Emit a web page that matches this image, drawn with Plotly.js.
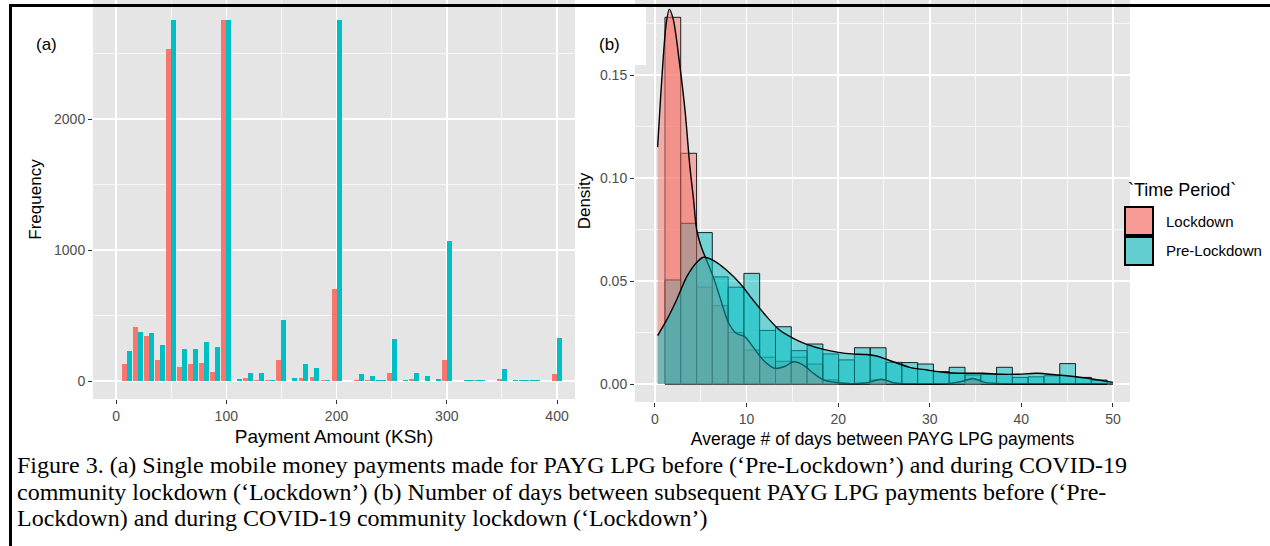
<!DOCTYPE html>
<html>
<head>
<meta charset="utf-8">
<script src="https://cdn.plot.ly/plotly-3.0.1.min.js"></script>
<style>
html,body{margin:0;padding:0;background:#fff;}
#chart{width:1270px;height:546px;}
</style>
</head>
<body>
<div id="chart"></div>
<script>
// ---------- Panel (a): single payments, counts by payment amount ----------
const paymentAmounts = [10,20,30,40,50,60,70,80,90,100,110,120,130,140,150,160,170,180,190,200,210,220,230,240,250,260,270,280,290,300,310,320,330,340,350,360,370,380,390,400];
const paymentLockdown = [130,414,346,160,2532,109,130,140,71,2756,2,20,8,5,160,3,23,33,10,702,2,10,6,null,61,1,12,1,1,160,2,null,null,null,12,1,null,null,3,51];
const paymentPreLockdown = [229,374,366,277,2756,247,247,298,257,2756,13,61,61,10,466,23,130,99,10,2756,3,53,41,10,318,10,61,41,12,1070,2,10,10,2,89,10,10,4,null,326];

// ---------- Panel (b): days between payments, density histogram + KDE ----------
const dayBinEdges = [1.09,2.81,4.54,6.26,7.99,9.71,11.43,13.16,14.88,16.61,18.33,20.05,21.78,23.50,25.23,26.95,28.67,30.40,32.12,33.85,35.57,37.29,39.02,40.74,42.47,44.19,45.91,47.64,49.36];
const histLockdown = [0.178,0.112,0.047,0.038,0.025,0.0165,0.013,0.011,0.013,0.0097,0.002,0,0,0.002,0,0,0,0,0,0.002,0,0,0,0,0,0,0,0];
const histPreLockdown = [0.0505,0.078,0.0735,0.052,0.047,0.0537,0.026,0.0278,0.0162,0.0194,0.0146,0.0117,0.0176,0.0176,0.0105,0.0104,0.0097,0.006,0.0081,0.0044,0.0047,0.0081,0.0032,0.0035,0.004,0.0099,0.0032,0.0019];

const densLockdownX = [0.29,0.6,0.9,1.2,1.56,2.0,2.7,3.3,3.8,4.2,4.55,5.1,5.64,6.36,7.1,8.0,8.9,9.8,10.7,11.8,13.1,14.2,15.1,16.2,17.3,18.4,19.8,21.5,23.2,24.7,26.2,28,32,33.5,34.7,36,38,42,46,50];
const densLockdownY = [0.115,0.138,0.158,0.174,0.182,0.177,0.155,0.132,0.106,0.09,0.075,0.066,0.06,0.052,0.042,0.03,0.0245,0.023,0.018,0.0117,0.0076,0.0086,0.0108,0.0092,0.0052,0.002,0.0007,0.0002,0.0006,0.0023,0.0005,0.0001,0.0002,0.0012,0.0027,0.0008,0.0001,0,0.0001,0];
const densPreX = [0.29,1.27,2.36,3.46,4.55,5.28,6.36,7.8,9.27,10.7,12.2,13.6,15.1,16.5,18.4,20.2,21.5,23.1,24.2,26.0,27.8,29.7,31.5,33.3,35.8,37.7,39.5,41.7,43.9,46.0,47.9,50];
const densPreY = [0.0235,0.031,0.0408,0.052,0.059,0.0615,0.060,0.0553,0.0489,0.0408,0.0327,0.0262,0.0222,0.0194,0.0168,0.0152,0.0146,0.0143,0.0136,0.0108,0.0081,0.0068,0.0057,0.0052,0.0052,0.0047,0.0047,0.0052,0.0044,0.0035,0.0023,0.0008];

const timePeriods = ['Lockdown','Pre-Lockdown'];
const legendTitle = '`Time Period`';
const captionLines = [
  'Figure 3. (a) Single mobile money payments made for PAYG LPG before (\u2018Pre-Lockdown\u2019) and during COVID-19',
  'community lockdown (\u2018Lockdown\u2019) (b) Number of days between subsequent PAYG LPG payments before (\u2018Pre-',
  'Lockdown) and during COVID-19 community lockdown (\u2018Lockdown\u2019)'
];

// ---------- styling ----------
const RED = '#F8766D', TEAL = '#00BFC4';
const W = 1270, H = 546;
const px = v => v / W, py = v => 1 - v / H;
const SANS = 'Liberation Sans, Arial, sans-serif';

// dodge: pair shares width 9; lone bar gets full width
const dodgeW = 9;
const redOff = [], redW = [], tealOff = [], tealW = [];
paymentAmounts.forEach((a, i) => {
  const r = paymentLockdown[i], t = paymentPreLockdown[i];
  if (r != null && t != null) { redOff.push(-dodgeW/2); redW.push(dodgeW/2); tealOff.push(0); tealW.push(dodgeW/2); }
  else { redOff.push(-dodgeW/2); redW.push(dodgeW); tealOff.push(-dodgeW/2); tealW.push(dodgeW); }
});

const binCenters = dayBinEdges.slice(0, -1).map((e, i) => (e + dayBinEdges[i+1]) / 2);
const binWidths = dayBinEdges.slice(0, -1).map((e, i) => dayBinEdges[i+1] - e);

const traces = [
  {type:'bar', x:paymentAmounts, y:paymentLockdown, offset:redOff, width:redW, marker:{color:RED, line:{width:0}}, xaxis:'x', yaxis:'y', showlegend:false, name:timePeriods[0]},
  {type:'bar', x:paymentAmounts, y:paymentPreLockdown, offset:tealOff, width:tealW, marker:{color:TEAL, line:{width:0}}, xaxis:'x', yaxis:'y', showlegend:false, name:timePeriods[1]},
  {type:'bar', x:binCenters, y:histLockdown, width:binWidths, marker:{color:'rgba(248,118,109,0.5)', line:{color:'rgba(0,0,0,0.85)', width:1}}, xaxis:'x2', yaxis:'y2', showlegend:false, name:timePeriods[0]},
  {type:'bar', x:binCenters, y:histPreLockdown, width:binWidths, marker:{color:'rgba(0,191,196,0.5)', line:{color:'rgba(0,0,0,0.85)', width:1}}, xaxis:'x2', yaxis:'y2', showlegend:false, name:timePeriods[1]},
  {type:'scatter', mode:'lines', x:densLockdownX, y:densLockdownY, fill:'tozeroy', fillcolor:'rgba(248,118,109,0.5)', line:{color:'#000', width:1.4, shape:'spline', smoothing:0.8}, xaxis:'x2', yaxis:'y2', showlegend:false, name:timePeriods[0]},
  {type:'scatter', mode:'lines', x:densPreX, y:densPreY, fill:'tozeroy', fillcolor:'rgba(0,191,196,0.5)', line:{color:'#000', width:1.4, shape:'spline', smoothing:0.8}, xaxis:'x2', yaxis:'y2', showlegend:false, name:timePeriods[1]}
];

const axisCommon = {
  showline:false, zeroline:false, ticks:'outside', ticklen:4, tickwidth:1, tickcolor:'#333333',
  tickfont:{family:SANS, size:14, color:'#4D4D4D'},
  showgrid:true, gridcolor:'#FFFFFF', gridwidth:1.5, fixedrange:true
};
const minorCommon = {showgrid:true, gridcolor:'#FFFFFF', gridwidth:0.7, ticks:''};

const layout = {
  width:W, height:H, margin:{l:0, r:0, t:0, b:0},
  paper_bgcolor:'#FFFFFF', plot_bgcolor:'#E5E5E5',
  barmode:'overlay', bargap:0, showlegend:false,
  font:{family:SANS},
  xaxis: Object.assign({}, axisCommon, {
    domain:[px(93), px(575)], range:[-20.9, 416.3], anchor:'y',
    tickvals:[0,100,200,300,400], minor:Object.assign({tickvals:[50,150,250,350]}, minorCommon),
    title:{text:'Payment Amount (KSh)', font:{family:SANS, size:19, color:'#000'}, standoff:6}
  }),
  yaxis: Object.assign({}, axisCommon, {
    domain:[py(399), 1], range:[-137.4, 2908.4], anchor:'x',
    tickvals:[0,1000,2000], minor:Object.assign({tickvals:[500,1500,2500]}, minorCommon),
    title:{text:'Frequency', font:{family:SANS, size:17, color:'#000'}, standoff:8}
  }),
  xaxis2: Object.assign({}, axisCommon, {
    domain:[px(635), px(1130)], range:[-2.18, 51.86], anchor:'y2',
    tickvals:[0,10,20,30,40,50], minor:Object.assign({tickvals:[5,15,25,35,45]}, minorCommon),
    title:{text:'Average # of days between PAYG LPG payments', font:{family:SANS, size:17.5, color:'#000'}, standoff:6}
  }),
  yaxis2: Object.assign({}, axisCommon, {
    domain:[py(402), 1], range:[-0.00874, 0.18641], anchor:'x2',
    tickvals:[0,0.05,0.10,0.15], ticktext:['0.00','0.05','0.10','0.15'],
    minor:Object.assign({tickvals:[0.025,0.075,0.125,0.175]}, minorCommon),
    title:{text:'Density', font:{family:SANS, size:17, color:'#000'}, standoff:5}
  }),
  shapes:[
    {type:'rect', xref:'paper', yref:'paper', x0:px(600), x1:px(646), y0:py(65), y1:py(6), fillcolor:'#FFFFFF', line:{width:0}, layer:'above'},
    {type:'rect', xref:'paper', yref:'paper', x0:px(1125), x1:px(1153), y0:py(235), y1:py(207), fillcolor:'#F89A95', line:{color:'#000', width:2}},
    {type:'rect', xref:'paper', yref:'paper', x0:px(1125), x1:px(1153), y0:py(265), y1:py(237), fillcolor:'#64CDCF', line:{color:'#000', width:2}},
    {type:'line', xref:'paper', yref:'paper', x0:px(9), x1:px(1270), y0:py(5.5), y1:py(5.5), line:{color:'#000', width:3}, layer:'above'},
    {type:'line', xref:'paper', yref:'paper', x0:px(10.5), x1:px(10.5), y0:py(4), y1:0, line:{color:'#000', width:3}, layer:'above'}
  ],
  annotations:[
    {xref:'paper', yref:'paper', x:px(46), y:py(44), text:'(a)', showarrow:false, xanchor:'center', yanchor:'middle', font:{family:SANS, size:17, color:'#000'}},
    {xref:'paper', yref:'paper', x:px(609), y:py(44), text:'(b)', showarrow:false, xanchor:'center', yanchor:'middle', font:{family:SANS, size:17, color:'#000'}},
    {xref:'paper', yref:'paper', x:px(1126), y:py(190), text:legendTitle, showarrow:false, xanchor:'left', yanchor:'middle', font:{family:SANS, size:18, color:'#000'}},
    {xref:'paper', yref:'paper', x:px(1164), y:py(221), text:timePeriods[0], showarrow:false, xanchor:'left', yanchor:'middle', font:{family:SANS, size:15, color:'#000'}},
    {xref:'paper', yref:'paper', x:px(1164), y:py(251), text:timePeriods[1], showarrow:false, xanchor:'left', yanchor:'middle', font:{family:SANS, size:15, color:'#000'}}
  ].concat(captionLines.map((t, i) => ({
    xref:'paper', yref:'paper', x:px(16), y:py(465 + 26.5*i), text:t, showarrow:false, xanchor:'left', yanchor:'middle', borderpad:0,
    font:{family:'Liberation Serif, Times New Roman, serif', size:24, color:'#000'}
  })))
};

Plotly.newPlot('chart', traces, layout, {displayModeBar:false, staticPlot:true});
</script>
</body>
</html>
